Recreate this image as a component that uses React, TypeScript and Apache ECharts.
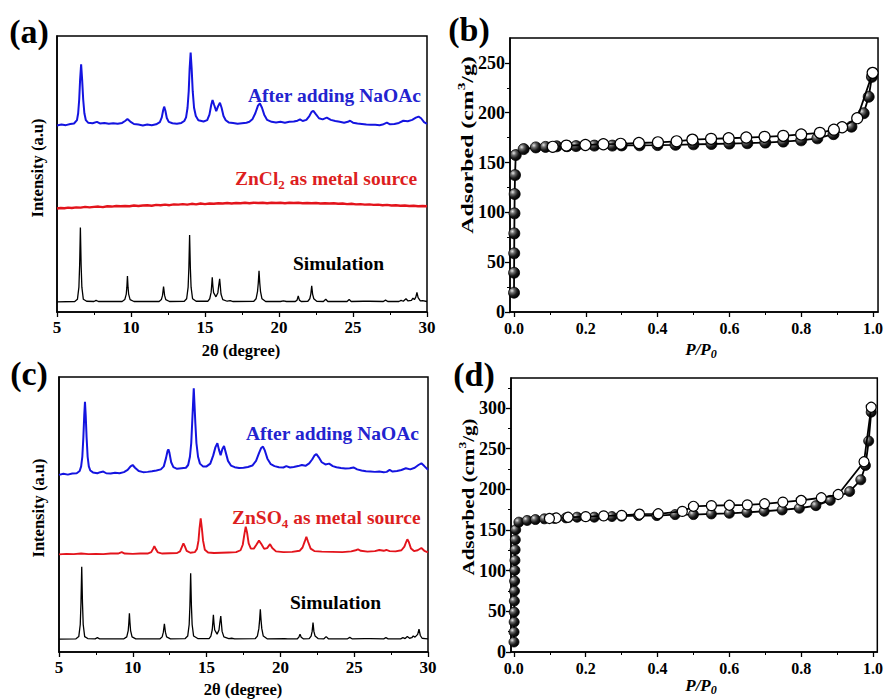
import React, { useEffect, useRef } from 'react';
import * as echarts from 'echarts';

// ---------- XRD data (2θ in degrees, intensity in arbitrary stacked units 0–100) ----------
const xrdTickValues = [5, 10, 15, 20, 25, 30];

const aBlue: number[][] = [
  [5,67.6],[5.3,67.9],[5.6,67.7],[5.9,68.1],[6.15,68.3],[6.35,69.5],[6.43,72],[6.5,77],[6.56,84],[6.63,89.7],[6.7,84],[6.77,77],[6.85,72],[6.95,69.5],[7.1,68.6],[7.4,68.4],[7.7,68.9],[7.9,68.3],[8.2,68.5],[8.5,68.2],[8.8,68.4],[9.1,68.2],[9.4,68.5],[9.6,69.2],[9.76,69.9],[9.95,69.0],[10.2,68.1],[10.5,67.9],[10.8,67.6],[11.1,67.9],[11.4,67.7],[11.7,68.0],[11.95,68.8],[12.08,70.5],[12.17,73],[12.24,74.4],[12.32,73],[12.42,70.3],[12.55,68.9],[12.8,68.4],[13.1,68.2],[13.4,68.5],[13.6,69.2],[13.72,70.5],[13.82,74],[13.9,80],[13.96,88],[14.03,94],[14.1,88],[14.17,80],[14.26,74],[14.38,71],[14.55,69.5],[14.9,69.0],[15.15,69.5],[15.3,71.5],[15.42,75],[15.51,76.8],[15.62,75],[15.76,72.8],[15.88,74.5],[16.01,75.8],[16.12,74],[16.25,71],[16.4,69.5],[16.6,68.7],[16.9,68.5],[17.2,68.2],[17.5,68.4],[17.8,68.6],[18.0,68.9],[18.2,69.8],[18.4,72],[18.58,74.8],[18.71,75.6],[18.85,74],[19.0,71.5],[19.2,69.6],[19.5,68.9],[19.8,68.7],[20.1,68.9],[20.4,68.6],[20.7,68.9],[21.0,69.0],[21.25,69.3],[21.42,69.8],[21.6,69.2],[21.85,69.6],[22.05,71],[22.2,72.5],[22.32,72.9],[22.5,71.6],[22.7,70.2],[22.95,69.8],[23.23,70.4],[23.5,69.6],[23.8,69.2],[24.1,68.9],[24.4,68.6],[24.65,68.9],[24.8,69.3],[25.0,68.6],[25.3,68.3],[25.6,68.1],[25.9,67.9],[26.2,67.8],[26.5,67.8],[26.8,67.7],[27.0,67.9],[27.29,68.6],[27.5,68.0],[27.8,68.1],[28.1,68.5],[28.4,69.3],[28.7,69.1],[29.0,69.6],[29.25,70.4],[29.43,70.8],[29.6,70.2],[29.8,68.8],[30,68.2]
];

const aRed: number[][] = [
  [5,37.5],[5.25,37.7],[5.5,37.6],[5.75,37.8],[6.0,37.7],[6.3,37.9],[6.6,37.8],[6.9,38.1],[7.2,37.9],[7.5,38.1],[7.8,38.2],[8.1,38.0],[8.4,38.3],[8.7,38.2],[9.0,38.4],[9.3,38.3],[9.6,38.4],[9.9,38.3],[10.2,38.6],[10.5,38.4],[10.8,38.6],[11.1,38.7],[11.4,38.5],[11.7,38.8],[12.0,38.7],[12.3,38.9],[12.6,38.7],[12.9,39.0],[13.2,38.9],[13.5,39.1],[13.8,38.9],[14.1,39.2],[14.4,39.0],[14.7,39.3],[15.0,39.1],[15.3,39.3],[15.6,39.2],[15.9,39.4],[16.2,39.3],[16.5,39.5],[16.8,39.3],[17.1,39.5],[17.4,39.4],[17.7,39.6],[18.0,39.4],[18.3,39.6],[18.6,39.5],[18.9,39.6],[19.2,39.4],[19.5,39.6],[19.8,39.5],[20.1,39.6],[20.4,39.4],[20.7,39.6],[21.0,39.5],[21.3,39.6],[21.6,39.4],[21.9,39.5],[22.2,39.4],[22.5,39.5],[22.8,39.3],[23.1,39.4],[23.4,39.3],[23.7,39.4],[24.0,39.2],[24.3,39.3],[24.6,39.1],[24.9,39.2],[25.2,39.0],[25.5,39.1],[25.8,38.9],[26.1,39.0],[26.4,38.8],[26.7,38.9],[27.0,38.7],[27.3,38.8],[27.6,38.6],[27.9,38.7],[28.2,38.5],[28.5,38.6],[28.8,38.4],[29.1,38.5],[29.4,38.3],[29.7,38.4],[30,38.3]
];

const aSim: number[][] = [
  [5,3.7],[6.2,3.8],[6.38,4.6],[6.48,9],[6.53,17],[6.58,30.6],[6.63,17],[6.68,9],[6.78,4.6],[7.0,3.9],[7.5,3.8],[7.64,4.2],[7.8,3.8],[9.4,3.8],[9.58,4.5],[9.68,6.5],[9.72,9],[9.76,13.0],[9.8,9],[9.84,6.5],[9.94,4.5],[10.2,3.8],[11.9,3.8],[12.05,4.5],[12.13,6],[12.2,9.2],[12.27,6],[12.35,4.5],[12.6,3.8],[13.6,3.9],[13.76,4.8],[13.86,9],[13.91,16],[13.96,27.9],[14.01,16],[14.06,9],[14.16,4.8],[14.4,3.9],[15.2,3.9],[15.32,4.8],[15.41,7],[15.45,9.5],[15.49,12.6],[15.53,9.5],[15.58,7],[15.74,5.5],[15.87,7],[15.92,9.3],[15.99,12.0],[16.04,9],[16.08,6.5],[16.2,4.5],[16.5,3.9],[16.7,4.1],[16.9,3.8],[18.3,3.9],[18.45,4.8],[18.55,7.5],[18.6,10.5],[18.65,14.9],[18.7,10.5],[18.75,7.5],[18.85,4.8],[19.1,3.8],[20.1,3.8],[20.3,4.0],[20.5,3.8],[21.1,3.8],[21.22,4.3],[21.3,5.8],[21.38,4.3],[21.5,3.8],[21.95,3.9],[22.08,4.8],[22.15,6.5],[22.21,9.5],[22.27,6.5],[22.35,4.8],[22.55,3.9],[23.0,3.8],[23.16,4.6],[23.3,3.8],[24.6,3.8],[24.74,4.5],[24.88,3.8],[25.7,3.9],[26.1,3.9],[27.05,3.8],[27.2,4.3],[27.35,3.8],[28.1,3.8],[28.25,4.2],[28.4,3.9],[28.58,4.8],[28.72,4.0],[28.95,4.2],[29.05,5.0],[29.15,4.5],[29.25,5.5],[29.32,7.1],[29.4,5.2],[29.55,4.0],[29.7,4.1],[30,3.8]
];

const cBlue: number[][] = [
  [5,64.4],[5.3,64.8],[5.6,64.5],[5.9,64.9],[6.2,65.0],[6.4,65.8],[6.5,67.5],[6.58,71],[6.65,78],[6.71,86],[6.76,91.0],[6.81,86],[6.87,78],[6.94,71],[7.02,67.5],[7.12,66],[7.3,65.3],[7.6,65.0],[7.8,65.4],[8.0,65.6],[8.2,65.0],[8.5,64.9],[8.8,65.2],[9.1,65.0],[9.4,65.4],[9.65,66.2],[9.85,67.5],[9.99,68.0],[10.15,67.0],[10.4,65.8],[10.7,65.4],[11.0,65.5],[11.3,65.7],[11.6,66.0],[11.9,66.4],[12.1,67.5],[12.25,70.5],[12.35,73],[12.41,73.7],[12.48,72.5],[12.6,69],[12.75,67.2],[13.0,66.6],[13.3,66.8],[13.6,67.0],[13.75,68],[13.87,71],[13.96,76],[14.02,83],[14.08,90],[14.13,95.9],[14.18,90],[14.24,83],[14.31,76],[14.42,71],[14.55,68.5],[14.75,67.5],[15.0,67.5],[15.25,68.5],[15.45,71.5],[15.6,74.5],[15.73,75.9],[15.84,73.5],[15.95,71.6],[16.07,73.8],[16.18,74.9],[16.3,72.5],[16.45,69.5],[16.65,67.8],[16.9,67.2],[17.2,66.9],[17.5,67.0],[17.8,67.3],[18.1,67.8],[18.35,69.5],[18.55,72.3],[18.7,74.2],[18.82,74.7],[18.95,73.2],[19.12,70.3],[19.35,68.3],[19.6,67.6],[19.9,67.2],[20.2,67.1],[20.4,67.6],[20.65,67.1],[20.9,67.3],[21.2,67.6],[21.45,68.0],[21.7,67.7],[21.95,68.6],[22.15,70.0],[22.3,71.4],[22.44,72.0],[22.6,70.8],[22.8,69.0],[23.05,68.2],[23.3,68.5],[23.55,67.6],[23.8,67.2],[24.1,66.9],[24.4,66.7],[24.7,66.8],[24.95,67.1],[25.2,66.4],[25.5,66.0],[25.8,65.7],[26.1,65.6],[26.4,65.5],[26.7,65.6],[27.0,65.4],[27.2,65.5],[27.4,66.2],[27.6,65.6],[27.9,65.8],[28.2,66.2],[28.5,66.8],[28.8,66.4],[29.1,67.0],[29.35,68.0],[29.55,68.6],[29.75,67.6],[30,66.3]
];

const cRed: number[][] = [
  [5,35.5],[5.5,35.7],[6,35.6],[6.5,35.8],[7,35.6],[7.5,35.7],[8,35.6],[8.5,35.8],[9.0,35.8],[9.25,36.3],[9.45,35.8],[10,35.7],[10.5,35.8],[11.0,35.8],[11.25,36.3],[11.38,37.6],[11.46,38.5],[11.55,37.5],[11.7,36.2],[12.0,35.8],[12.5,35.9],[13.0,36.0],[13.2,36.6],[13.35,38.5],[13.43,39.5],[13.52,38.5],[13.65,36.8],[13.9,36.1],[14.2,36.3],[14.35,37.5],[14.45,40.5],[14.52,45],[14.6,48.6],[14.68,45],[14.76,40.5],[14.88,37.2],[15.1,36.2],[15.5,36.0],[16,36.1],[16.5,36.2],[17.0,36.3],[17.3,37.0],[17.45,39],[17.55,42.5],[17.65,45.6],[17.74,43.5],[17.85,39.5],[18.0,37.6],[18.2,37.6],[18.35,38.8],[18.55,40.5],[18.72,39.2],[18.9,37.5],[19.1,37.8],[19.3,39.2],[19.45,37.8],[19.7,36.6],[20.2,36.3],[20.8,36.4],[21.3,36.8],[21.5,38],[21.65,40.2],[21.76,41.9],[21.88,40.0],[22.05,37.6],[22.3,36.7],[22.8,36.5],[23.5,36.4],[24.2,36.3],[24.8,36.6],[25.1,37.0],[25.26,37.3],[25.45,36.8],[25.9,36.5],[26.4,36.7],[26.7,37.1],[27.0,36.8],[27.18,37.1],[27.4,36.7],[27.8,36.6],[28.2,37.0],[28.4,38.3],[28.52,40.0],[28.6,41.0],[28.7,40.0],[28.85,37.6],[29.05,36.7],[29.3,37.0],[29.55,37.8],[29.75,36.8],[30,36.2]
];

const cSim: number[][] = [
  [5,4.7],[6.15,4.8],[6.34,5.6],[6.44,10],[6.49,18],[6.54,31.0],[6.59,18],[6.64,10],[6.74,5.6],[6.95,4.9],[7.45,4.8],[7.6,5.2],[7.75,4.8],[9.4,4.8],[9.59,5.5],[9.69,7.8],[9.73,10.5],[9.77,14.1],[9.81,10.5],[9.85,7.8],[9.95,5.5],[10.2,4.8],[11.85,4.8],[11.99,5.5],[12.07,7.2],[12.14,10.2],[12.21,7.2],[12.29,5.5],[12.55,4.8],[13.55,4.9],[13.72,5.8],[13.82,10],[13.87,17],[13.92,28.6],[13.97,17],[14.02,10],[14.12,5.8],[14.4,4.9],[15.17,4.9],[15.29,5.8],[15.38,8],[15.42,10.5],[15.46,13.5],[15.5,10.5],[15.55,8],[15.71,6.5],[15.84,8],[15.89,10.3],[15.96,13.1],[16.01,10],[16.05,7.5],[16.17,5.5],[16.5,4.9],[16.7,5.0],[16.9,4.8],[18.3,4.9],[18.44,5.8],[18.54,8.5],[18.59,11.5],[18.64,15.5],[18.69,11.5],[18.74,8.5],[18.84,5.8],[19.1,4.8],[20.3,4.9],[20.5,4.8],[21.15,4.8],[21.25,5.4],[21.33,6.5],[21.41,5.4],[21.55,4.8],[21.95,4.9],[22.08,5.8],[22.15,7.5],[22.21,10.7],[22.27,7.5],[22.35,5.8],[22.55,4.9],[22.95,4.8],[23.1,5.6],[23.25,4.8],[24.55,4.8],[24.7,5.3],[24.85,4.8],[25.7,4.9],[26.1,4.9],[27.0,4.8],[27.15,5.2],[27.3,4.8],[28.15,4.8],[28.3,5.2],[28.45,4.9],[28.6,5.6],[28.75,5.0],[28.9,5.2],[29.0,5.8],[29.12,5.4],[29.3,6.4],[29.39,8.3],[29.48,6.0],[29.6,5.0],[29.8,4.9],[30,4.8]
];

// ---------- N2 isotherm data (P/P0, cm3/g) ----------
const pTickValues = [0, 0.2, 0.4, 0.6, 0.8, 1.0];
const bYTicks = [0, 50, 100, 150, 200, 250];
const dYTicks = [0, 50, 100, 150, 200, 250, 300];

const bAds: number[][] = [
  [0.0002,19.4],[0.0004,39.4],[0.0007,58.9],[0.001,78.9],[0.0015,99],[0.002,118.4],[0.003,137.4],[0.005,157.5],[0.027,163.5],[0.061,165.2],[0.088,165.7],[0.119,166.3],[0.148,166.4],[0.173,166.5],[0.224,167],[0.274,167],[0.30,167.2],[0.35,167.3],[0.40,167.5],[0.45,167.8],[0.50,168.3],[0.55,168.6],[0.60,169],[0.65,169.4],[0.70,170],[0.75,171],[0.80,172.3],[0.845,174.3],[0.89,178.5],[0.94,186],[0.974,199.5],[0.988,216],[0.997,236]
];
const bDes: number[][] = [
  [0.999,240],[0.956,194.5],[0.914,185.4],[0.891,183],[0.852,179.8],[0.80,178.2],[0.75,176.8],[0.698,175.8],[0.647,175.1],[0.598,174.4],[0.549,173.8],[0.497,173],[0.453,171.3],[0.401,170.3],[0.348,169.6],[0.297,168.8],[0.249,168.4],[0.199,167.6],[0.146,167],[0.108,165.8]
];

const dAds: number[][] = [
  [0.0003,12.3],[0.0005,24.6],[0.0008,36.9],[0.001,49.1],[0.0013,62.7],[0.0016,75],[0.002,87.2],[0.0025,100.4],[0.003,112.7],[0.0035,125.8],[0.004,138.1],[0.005,150.4],[0.014,159.7],[0.037,161.8],[0.06,162.9],[0.085,163.8],[0.113,164.3],[0.145,165],[0.176,165.8],[0.224,165.8],[0.273,166.6],[0.30,167],[0.347,167.8],[0.398,167.8],[0.449,169],[0.50,169],[0.55,169.8],[0.60,170.6],[0.649,171.8],[0.697,173.1],[0.747,174.7],[0.795,176.8],[0.841,180],[0.881,186.5],[0.935,197.4],[0.966,211.8],[0.979,229.4],[0.988,259.5],[0.995,295]
];
const dDes: number[][] = [
  [0.995,301],[0.975,234],[0.903,193.7],[0.856,189.7],[0.80,186.4],[0.749,184.3],[0.698,182.3],[0.65,181],[0.60,180.5],[0.55,180],[0.50,179.2],[0.469,172.9],[0.402,170],[0.35,169.5],[0.30,168],[0.25,167.4],[0.20,166.5],[0.151,165.7],[0.118,164.8],[0.099,164.2]
];

const FONT = 'Liberation Serif';
const BLUE = '#1414e0';
const RED = '#e3141c';
const BLUE_TXT = '#2323cf';
const RED_TXT = '#dd1f1f';

export default function App() {
  const ref = useRef<HTMLDivElement>(null);

  useEffect(() => {
    if (!ref.current) return;
    const chart = echarts.init(ref.current, null, { renderer: 'svg' });

    const grids = [
      { left: 57, top: 36, width: 370, height: 276 },
      { left: 510, top: 38, width: 371, height: 274 },
      { left: 59, top: 377, width: 369, height: 275 },
      { left: 511, top: 378, width: 370, height: 274 },
    ].map((g) => ({ ...g, show: true, borderColor: '#000', borderWidth: 1.5, backgroundColor: 'transparent' }));

    const axisLine = { show: true, onZero: false, lineStyle: { color: '#000', width: 1.5 } };

    const xrdX = (gi: number) => ({
      type: 'value', gridIndex: gi, min: 5, max: 30, interval: 5,
      axisLine,
      axisTick: { show: true, inside: false, length: 5, lineStyle: { color: '#000', width: 1.3 } },
      minorTick: { show: true, splitNumber: 2, length: 3, lineStyle: { color: '#000', width: 1 } },
      axisLabel: {
        color: '#000', fontFamily: FONT, fontWeight: 'bold', fontSize: 17, margin: 7,
        customValues: xrdTickValues,
      },
      splitLine: { show: false }, minorSplitLine: { show: false },
    });
    const xrdY = (gi: number) => ({
      type: 'value', gridIndex: gi, min: 0, max: 100, show: true,
      axisLine, axisTick: { show: false }, axisLabel: { show: false }, splitLine: { show: false },
    });
    const fmtP = (v: number) => (Math.abs(v * 5 - Math.round(v * 5)) < 1e-6 && v >= -1e-9 ? v.toFixed(1) : '');
    const betX = (gi: number, min: number, max: number) => ({
      type: 'value', gridIndex: gi, min, max,
      axisLine,
      axisTick: { show: true, inside: false, length: 5, lineStyle: { color: '#000', width: 1.3 }, customValues: pTickValues },
      minorTick: { show: true, splitNumber: 2, length: 3, lineStyle: { color: '#000', width: 1 } },
      axisLabel: {
        color: '#000', fontFamily: FONT, fontWeight: 'bold', fontSize: 16, margin: 8,
        customValues: pTickValues, formatter: fmtP,
      },
      splitLine: { show: false }, minorSplitLine: { show: false },
    });
    const betY = (gi: number, max: number, ticks: number[]) => ({
      type: 'value', gridIndex: gi, min: 0, max, interval: 50,
      axisLine,
      axisTick: { show: true, inside: false, length: 5, lineStyle: { color: '#000', width: 1.3 }, customValues: ticks },
      minorTick: { show: true, splitNumber: 2, length: 3, lineStyle: { color: '#000', width: 1 } },
      axisLabel: {
        color: '#000', fontFamily: FONT, fontWeight: 'bold', fontSize: 18, margin: 5,
        customValues: ticks, formatter: (v: number) => (v % 50 === 0 ? String(v) : ''),
      },
      splitLine: { show: false }, minorSplitLine: { show: false },
    });

    const line = (xi: number, data: number[][], color: string, width: number) => ({
      type: 'line', xAxisIndex: xi, yAxisIndex: xi, data, symbol: 'none', showSymbol: false,
      lineStyle: { color, width }, silent: true, animation: false,
    });

    const ball = new echarts.graphic.RadialGradient(0.32, 0.32, 0.72, [
      { offset: 0, color: '#e6e6e6' },
      { offset: 0.3, color: '#6a6a6a' },
      { offset: 0.65, color: '#1a1a1a' },
      { offset: 1, color: '#000' },
    ]);
    const filled = (xi: number, data: number[][], size: number) => ({
      type: 'line', xAxisIndex: xi, yAxisIndex: xi, data, symbol: 'circle', symbolSize: size,
      showSymbol: true, showAllSymbol: true,
      lineStyle: { color: '#000', width: 1.8 },
      itemStyle: { color: ball, borderColor: '#000', borderWidth: 0.8 },
      silent: true, z: 2,
    });
    const open = (xi: number, data: number[][], size: number) => ({
      type: 'line', xAxisIndex: xi, yAxisIndex: xi, data, symbol: 'circle', symbolSize: size,
      showSymbol: true, showAllSymbol: true,
      lineStyle: { color: '#000', width: 1.8 },
      itemStyle: { color: '#fff', borderColor: '#000', borderWidth: 1.2 },
      silent: true, z: 3,
    });

    const baseTxt = (size: number, fill: string, extra: any = {}) => ({
      fontFamily: FONT, fontWeight: 'bold', fontSize: size, fill, ...extra,
    });
    const text = (x: number, y: number, t: string, size: number, fill = '#000', opts: any = {}) => ({
      type: 'text', x, y, rotation: opts.rotation || 0, scaleX: opts.scaleX || 1, scaleY: opts.scaleY || 1,
      silent: true, z: 10,
      style: {
        text: t, ...baseTxt(size, fill, opts.style || {}),
        align: opts.align || 'center', verticalAlign: 'middle',
        textAlign: opts.align || 'center', textVerticalAlign: 'middle',
        rich: opts.rich,
      },
    });

    const subRich = (size: number, fill: string) => ({
      m: { ...baseTxt(size, fill), lineHeight: 26, verticalAlign: 'middle' },
      s: { ...baseTxt(Math.round(size * 0.68), fill), lineHeight: 13, verticalAlign: 'bottom' },
    });
    const supRich = (size: number) => ({
      m: { ...baseTxt(size, '#000'), lineHeight: 22, verticalAlign: 'middle' },
      p: { ...baseTxt(Math.round(size * 0.65), '#000'), lineHeight: 11, verticalAlign: 'top' },
    });
    const pRich = (size: number) => ({
      m: { ...baseTxt(size, '#000', { fontStyle: 'italic' }), lineHeight: 22, verticalAlign: 'middle' },
      s: { ...baseTxt(Math.round(size * 0.68), '#000', { fontStyle: 'italic' }), lineHeight: 11, verticalAlign: 'bottom' },
    });

    const graphics = [
      // panel letters
      text(29, 31, '(a)', 34),
      text(469, 29, '(b)', 34),
      text(29, 373, '(c)', 34),
      text(474, 374, '(d)', 34),
      // panel (a)
      text(248, 95, 'After adding NaOAc', 19.5, BLUE_TXT, { align: 'left' }),
      text(235, 178, '{m|ZnCl}{s|2}{m| as metal source}', 19.5, RED_TXT, { align: 'left', rich: subRich(19.5, RED_TXT) }),
      text(293, 263, 'Simulation', 19.5, '#000', { align: 'left' }),
      text(241, 350, '2θ (degree)', 16.5),
      text(37, 168, 'Intensity (a.u)', 16.5, '#000', { rotation: Math.PI / 2 }),
      // panel (c)
      text(246, 433, 'After adding NaOAc', 19.5, BLUE_TXT, { align: 'left' }),
      text(232, 517, '{m|ZnSO}{s|4}{m| as metal source}', 19.5, RED_TXT, { align: 'left', rich: subRich(19.5, RED_TXT) }),
      text(290, 602, 'Simulation', 19.5, '#000', { align: 'left' }),
      text(243, 689, '2θ (degree)', 16.5),
      text(38, 508, 'Intensity (a.u)', 16.5, '#000', { rotation: Math.PI / 2 }),
      // panel (b)
      text(467, 145, '{m|Adsorbed (cm}{p|3}{m|/g)}', 17, '#000', { rotation: Math.PI / 2, scaleX: 1.4, rich: supRich(17) }),
      text(701, 349, '{m|P/P}{s|0}', 17, '#000', { rich: pRich(17) }),
      // panel (d)
      text(468, 497, '{m|Adsorbed (cm}{p|3}{m|/g)}', 17, '#000', { rotation: Math.PI / 2, scaleX: 1.24, rich: supRich(17) }),
      text(701, 685, '{m|P/P}{s|0}', 17, '#000', { rich: pRich(17) }),
    ];

    const option: any = {
      animation: false,
      backgroundColor: '#fff',
      grid: grids,
      xAxis: [xrdX(0), betX(1, -0.011, 1.014), xrdX(2), betX(3, -0.008, 1.012)],
      yAxis: [xrdY(0), betY(1, 275, bYTicks), xrdY(2), betY(3, 337, dYTicks)],
      series: [
        line(0, aSim, '#000', 1.3),
        line(0, aRed, RED, 2.4),
        line(0, aBlue, BLUE, 2),
        filled(1, bAds, 11),
        open(1, bDes, 11),
        line(2, cSim, '#000', 1.3),
        line(2, cRed, RED, 1.9),
        line(2, cBlue, BLUE, 2),
        filled(3, dAds, 10),
        open(3, dDes, 10),
      ],
      graphic: graphics,
    };

    chart.setOption(option);
    return () => chart.dispose();
  }, []);

  return (
    <div
      ref={ref}
      style={{ position: 'absolute', left: 0, top: 0, width: 886, height: 699, background: '#fff' }}
    />
  );
}
